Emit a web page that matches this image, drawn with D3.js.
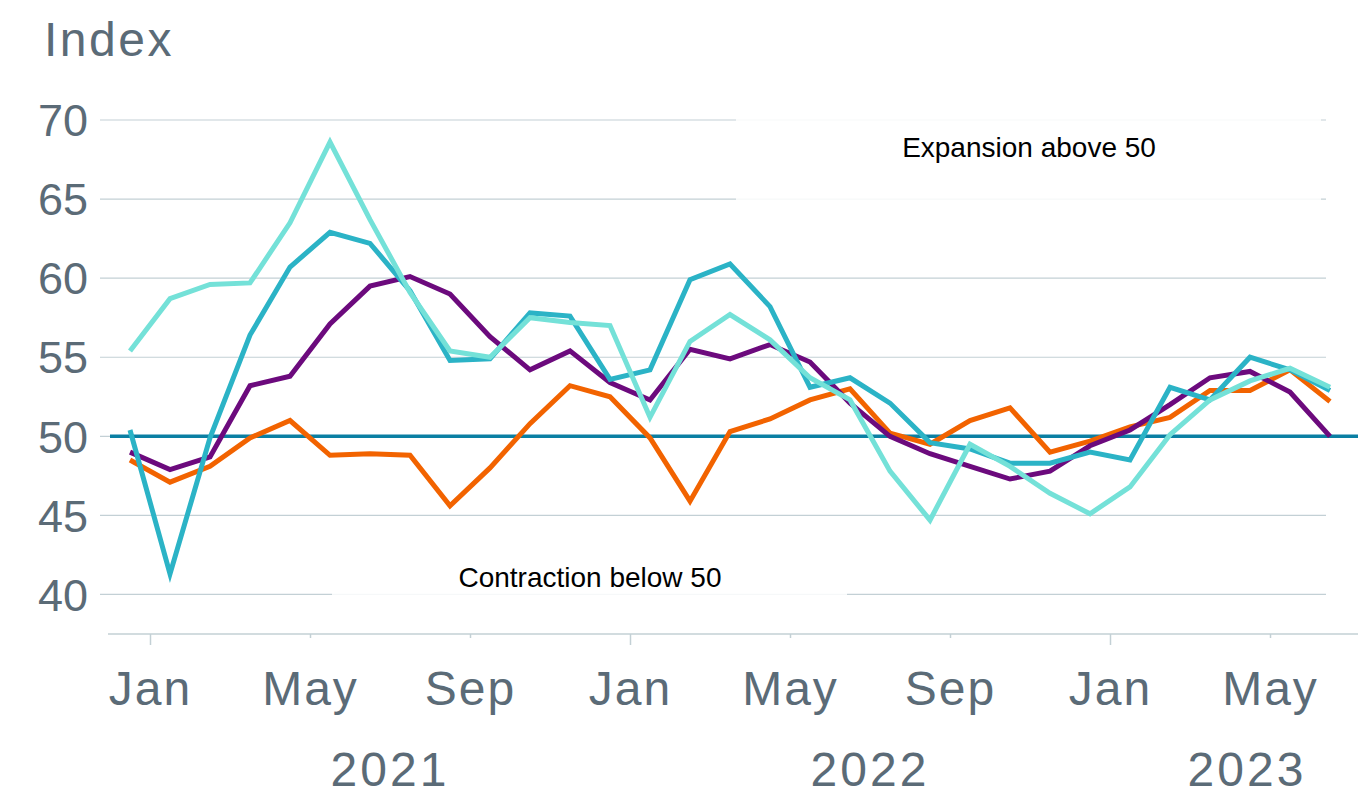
<!DOCTYPE html>
<html>
<head>
<meta charset="utf-8">
<script src="https://cdn.jsdelivr.net/npm/d3@7"></script>
<style>
	body { margin: 0; background: #fff; }
	svg text { font-family: "Liberation Sans", Arial, sans-serif; }
</style>
</head>
<body>
<div class="Chart"></div>
<script>
// months from Dec 2020 to Jun 2023
var months = ["Dec","Jan","Feb","Mar","Apr","May","Jun","Jul","Aug","Sep","Oct","Nov",
	"Dec","Jan","Feb","Mar","Apr","May","Jun","Jul","Aug","Sep","Oct","Nov",
	"Dec","Jan","Feb","Mar","Apr","May","Jun"];
var years = [2020,2021,2021,2021,2021,2021,2021,2021,2021,2021,2021,2021,
	2021,2022,2022,2022,2022,2022,2022,2022,2022,2022,2022,2022,
	2022,2023,2023,2023,2023,2023,2023];

var lightTeal = [55.4,58.7,59.6,59.7,63.5,68.6,63.7,59.1,55.4,55.0,57.5,57.2,
	57.0,51.2,56.0,57.7,56.1,53.7,52.3,47.8,44.7,49.5,48.1,46.4,
	45.1,46.8,50.1,52.3,53.5,54.3,53.1];
var teal = [50.4,41.3,49.9,56.4,60.7,62.9,62.2,59.2,54.8,54.9,57.8,57.6,
	53.6,54.2,59.9,60.9,58.2,53.1,53.7,52.1,49.6,49.2,48.3,48.3,
	49.0,48.5,53.1,52.3,55.0,54.2,52.9];
var purple = [49.0,47.9,48.7,53.2,53.8,57.1,59.5,60.1,59.0,56.3,54.2,55.4,
	53.4,52.3,55.5,54.9,55.8,54.7,52.1,50.0,48.9,48.1,47.3,47.8,
	49.4,50.4,52.0,53.7,54.1,52.8,50.0];
var orange = [48.5,47.1,48.1,49.9,51.0,48.8,48.9,48.8,45.6,48.0,50.8,53.2,
	52.5,49.9,45.9,50.3,51.1,52.3,53.0,50.2,49.5,51.0,51.8,49.0,
	49.7,50.6,51.2,52.9,52.9,54.2,52.2];

var yTicks = [40,45,50,55,60,65,70];
var tickMonths = ["Jan","May","Sep"];
var yearList = [2021, 2022, 2023];

var series = [
	{ name: "orange", values: orange, color: "#f26300" },
	{ name: "purple", values: purple, color: "#6c0a7d" },
	{ name: "teal", values: teal, color: "#2bb3c6" },
	{ name: "lightTeal", values: lightTeal, color: "#74e1d8" }
];

var width = 1358, height = 809;
var textGrey = "#5b6b77", gridColor = "#c3d0d5";

var svg = d3.select('.Chart').append('svg')
	.attr('width', width)
	.attr('height', height);

var x = d3.scaleLinear().domain([0, 30]).range([130, 1330]);
var y = d3.scaleLinear().domain([37.5, 70]).range([634, 120]);

// gridlines
svg.append("g").selectAll("line")
	.data(yTicks)
	.enter().append("line")
	.attr("x1", 100)
	.attr("x2", x(29.9))
	.attr("y1", function(d) { return y(d); })
	.attr("y2", function(d) { return y(d); })
	.style("stroke", gridColor)
	.style("stroke-width", 1.2);

// y labels
svg.append("g").selectAll("text")
	.data(yTicks)
	.enter().append("text")
	.attr("x", 88)
	.attr("y", function(d) { return y(d); })
	.attr("dy", "0.36em")
	.attr("text-anchor", "end")
	.style("font-size", "45px")
	.style("fill", textGrey)
	.text(function(d) { return d; });

svg.append("text")
	.attr("x", 44)
	.attr("y", 56)
	.style("font-size", "48px")
	.style("letter-spacing", "2.5px")
	.style("fill", textGrey)
	.text("Index");

// white boxes behind annotations
svg.append("rect")
	.attr("x", 736).attr("y", y(70) - 1)
	.attr("width", 585).attr("height", y(65) - y(70) + 2)
	.style("fill", "white").style("opacity", 0.85);
svg.append("rect")
	.attr("x", 332).attr("y", y(42.5))
	.attr("width", 515).attr("height", y(40) - y(42.5) + 1.5)
	.style("fill", "white").style("opacity", 0.85);

svg.append("text")
	.attr("x", 1029).attr("y", 157)
	.attr("text-anchor", "middle")
	.style("font-size", "28px")
	.style("fill", "#000")
	.text("Expansion above 50");
svg.append("text")
	.attr("x", 590).attr("y", 587)
	.attr("text-anchor", "middle")
	.style("font-size", "28px")
	.style("fill", "#000")
	.text("Contraction below 50");

// x axis
var xAxis = d3.axisBottom(x)
	.tickValues(d3.range(0, 31).filter(function(i) { return tickMonths.indexOf(months[i]) > -1; }).map(function(i) { return i - 0.5; }))
	.tickSizeOuter(0)
	.tickSize(0)
	.tickFormat("");
var gx = svg.append("g")
	.attr("transform", "translate(0," + y(37.5) + ")")
	.call(xAxis);
gx.select(".domain").remove();
gx.append("line")
	.attr("x1", 108).attr("x2", width)
	.style("stroke", gridColor).style("stroke-width", 1.5);
gx.selectAll(".tick").append("line")
	.attr("y1", 0)
	.attr("y2", function(d) { return months[d + 0.5] === "Jan" ? 11 : 4; })
	.style("stroke", gridColor).style("stroke-width", 1.5);
gx.selectAll(".tick").append("text")
	.attr("y", 71)
	.attr("text-anchor", "middle")
	.style("font-size", "48px")
	.style("letter-spacing", "2px")
	.style("fill", textGrey)
	.text(function(d) { return months[d + 0.5]; });

// year labels, centred on each year's span (last year runs past the plot)
svg.append("g").selectAll("text")
	.data(yearList)
	.enter().append("text")
	.attr("x", function(yr) {
		var first = years.indexOf(yr) - 0.5;
		var last = years.lastIndexOf(yr) + 0.5;
		if (yr === yearList[yearList.length - 1]) last = 31.35;
		return (x(first) + x(last)) / 2;
	})
	.attr("y", 786)
	.attr("text-anchor", "middle")
	.style("font-size", "48px")
	.style("letter-spacing", "3px")
	.style("fill", textGrey)
	.text(function(d) { return d; });

// 50 line
svg.append("line")
	.attr("x1", 110).attr("x2", width)
	.attr("y1", y(50)).attr("y2", y(50))
	.style("stroke", "#0a7fa3")
	.style("stroke-width", 3.5);

var line = d3.line()
	.x(function(d, i) { return x(i); })
	.y(function(d) { return y(d); });

svg.append("g").selectAll("path")
	.data(series)
	.enter().append("path")
	.attr("d", function(s) { return line(s.values); })
	.style("fill", "none")
	.style("stroke", function(s) { return s.color; })
	.style("stroke-width", 5)
	.style("stroke-linejoin", "miter");
</script>
</body>
</html>
